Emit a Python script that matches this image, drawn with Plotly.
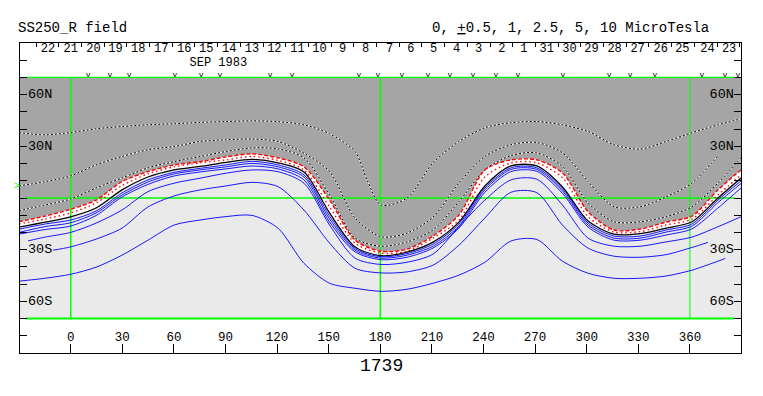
import plotly.graph_objects as go

# Contour sample longitudes (degrees)
LON = [-30.1, -14.9, -0.1, 14.7, 29.8, 44.9, 60.1, 75.2, 90.3, 105.4, 120.5, 135.6, 150.5, 165.3, 180.4,
       195.5, 210.6, 225.7, 240.8, 255.9, 271.0, 285.9, 300.8, 315.9, 331.0, 346.1, 361.2, 376.3, 389.7]

# Contour latitudes (degrees)
BLACK = [-16.9, -14.0, -10.9, -5.8, 4.7, 12.2, 16.3, 18.3, 20.7, 22.4, 20.4, 15.1, -8.7, -28.4, -33.5,
         -31.4, -25.6, -14.0, 7.0, 18.6, 18.6, 6.4, -13.4, -21.0, -20.7, -17.5, -13.8, 0.0, 11.6]
RED_DASH = [-13.8, -10.5, -6.6, -1.2, 9.5, 15.3, 19.2, 21.1, 23.9, 25.6, 23.3, 18.1, -1.2, -24.5, -30.9,
            -29.7, -22.1, -9.9, 16.3, 22.1, 22.1, 14.6, -8.0, -18.6, -18.1, -14.0, -10.5, 4.7, 16.3]
RED_DOT = [-15.1, -12.2, -8.7, -2.9, 7.2, 14.0, 18.1, 20.4, 22.1, 24.1, 21.8, 16.3, -5.2, -26.2, -32.0,
           -30.9, -23.3, -12.8, 12.2, 20.4, 20.4, 11.8, -10.9, -19.8, -19.5, -15.7, -12.2, 1.7, 13.4]
BLUE1 = [-18.1, -15.1, -12.8, -7.6, 2.9, 10.5, 14.9, 17.2, 19.2, 21.3, 19.2, 13.4, -10.5, -29.4, -34.1,
         -32.3, -26.8, -15.1, 5.8, 17.5, 17.5, 5.2, -14.6, -22.1, -22.1, -18.6, -15.1, -1.2, 9.9]
BLUE2 = [-20.0, -16.6, -14.4, -8.7, 1.7, 9.3, 14.0, 16.3, 18.1, 20.1, 18.1, 12.2, -12.2, -30.3, -34.9,
         -33.2, -28.0, -16.3, 4.7, 16.6, 16.6, 4.1, -15.7, -23.3, -23.3, -19.8, -16.3, -2.7, 8.4]
BLUE3 = [-21.0, -18.3, -16.3, -10.2, 0.6, 7.9, 12.8, 15.1, 16.9, 18.6, 16.9, 10.5, -14.0, -31.3, -35.8,
         -34.4, -29.1, -17.5, 3.3, 15.3, 15.5, 2.7, -16.9, -24.5, -24.5, -21.5, -17.9, -5.8, 5.8]
BLUE4_LON = [-24.8] + LON[1:]
BLUE4 = [-24.9, -22.7, -20.0, -14.6, -7.0, 3.7, 8.6, 11.5, 14.4, 16.3, 15.3, 8.6, -15.7, -34.9, -38.6,
         -37.3, -32.6, -16.7, -1.2, 10.5, 10.9, -4.1, -23.3, -28.0, -28.0, -25.5, -22.7, -16.7, -10.9]
BLUE5_LON = [-10.3] + LON[2:26] + [361.2, 370.5]
BLUE5 = [-30.3, -28.4, -23.9, -17.5, -5.2, 1.2, 4.7, 7.0, 9.1, 6.6, -7.0, -26.2, -40.8, -43.5,
         -42.9, -39.0, -27.4, -11.6, 3.3, 3.1, -15.7, -29.1, -33.8, -34.4, -32.9, -28.7, -25.8]
BLUE6_LON = LON[:28] + [380.5]
BLUE6 = [-48.3, -46.6, -44.3, -40.2, -33.2, -24.5, -15.7, -12.8, -10.8, -10.1, -17.5, -37.9, -49.5, -52.4, -54.2,
         -53.0, -49.5, -44.8, -37.3, -25.0, -24.1, -36.7, -43.7, -46.6, -46.6, -45.3, -41.9, -36.7, -35.1]
DOT1 = [-7.4, -4.1, -0.6, 5.8, 11.6, 17.5, 21.1, 24.1, 27.0, 29.1, 28.5, 23.3, 1.7, -23.3, -28.0,
        -25.5, -18.6, -2.2, 16.3, 24.6, 26.2, 18.2, -2.9, -13.8, -13.8, -10.9, -5.1, 8.7, 23.3]
DOT2_LON = LON[:28]
DOT2 = [7.0, 9.5, 12.8, 19.2, 24.1, 28.0, 29.9, 32.8, 33.8, 34.2, 32.8, 26.0, 15.3, -11.6, -22.5,
        -20.4, -11.1, 8.7, 24.1, 30.9, 32.2, 26.2, 9.5, -5.1, -5.1, 0.6, 8.7, 24.5]
DOT3_LON = LON[:14] + [172.3] + LON[14:]
DOT3 = [37.9, 36.7, 38.0, 40.2, 41.5, 42.5, 43.1, 43.9, 44.4, 44.8, 44.3, 42.5, 37.3, 27.0, 10.5, -4.1,
        0.0, 20.4, 32.8, 40.8, 43.7, 44.4, 42.5, 38.6, 30.9, 28.4, 32.8, 37.9, 42.5, 46.0]

# Axis labels and marks
LON_TICKS = [0, 30, 60, 90, 120, 150, 180, 210, 240, 270, 300, 330, 360]
LAT_TICKS = [80, 70, 60, 50, 40, 30, 20, 10, 0, -10, -20, -30, -40, -50, -60, -70, -80]
DAY_TICK_LON = [-20.2, -7.0, 6.2, 19.4, 32.6, 45.8, 59.0, 72.2, 85.4, 98.6, 111.8, 125.0, 138.2, 151.4, 164.6, 177.8,
                191.0, 204.2, 217.4, 230.6, 243.8, 257.0, 270.2, 283.4, 296.6, 309.8, 323.0, 336.2, 349.4, 362.6, 375.8, 389.0]
DAY_LABELS = ["22", "21", "20", "19", "18", "17", "16", "15", "14", "13", "12", "11", "10", "9", "8", "7",
              "6", "5", "4", "3", "2", "1", "31", "30", "29", "28", "27", "26", "25", "24", "23"]
DAY_LABEL_LON = [-13.2, 0.0, 13.2, 26.0, 39.2, 52.6, 66.0, 78.8, 92.2, 105.4, 118.4, 131.8, 144.6, 158.0, 171.4, 185.4,
                 197.8, 211.0, 224.4, 237.2, 250.6, 263.4, 276.8, 290.0, 302.8, 316.2, 329.6, 343.0, 355.6, 370.2, 382.8]
OBS_LON = [10.1, 22.8, 33.9, 60.6, 75.8, 86.8, 115.9, 128.7, 167.6, 178.6, 192.6, 207.7, 220.5, 233.9, 247.2,
           260.0, 286.2, 313.0, 325.2, 339.7, 367.0, 380.3, 387.9]
LAT_LABELS = ["60N", "30N", "30S", "60S"]
LAT_LABEL_VAL = [60, 30, -30, -60]
TOP = [70] * len(LON)
BOTTOM = [-70] * len(LON)

MONO = "Liberation Mono"
GREEN = "#00FF00"
BLUE = "#0000FF"
SMOOTH = 0.8
fig = go.Figure()


def add(x, y, color, width, dash="solid", **kw):
    fig.add_trace(go.Scatter(x=x, y=y, mode="lines", hoverinfo="skip",
                             line=dict(color=color, width=width, dash=dash, shape="spline", smoothing=SMOOTH), **kw))


# Background regions: gray north of the red line, white band, light gray south of the black line
fig.add_trace(go.Scatter(x=LON, y=TOP, mode="lines", line=dict(width=0), hoverinfo="skip"))
fig.add_trace(go.Scatter(x=LON, y=RED_DASH, mode="lines", line=dict(width=0, shape="spline", smoothing=SMOOTH),
                         fill="tonexty", fillcolor="#A5A5A5", hoverinfo="skip"))
fig.add_trace(go.Scatter(x=LON, y=BLACK, mode="lines", line=dict(width=0, shape="spline", smoothing=SMOOTH),
                         fill="tonexty", fillcolor="#FFFFFF", hoverinfo="skip"))
fig.add_trace(go.Scatter(x=LON, y=BOTTOM, mode="lines", line=dict(width=0),
                         fill="tonexty", fillcolor="#EAEAEA", hoverinfo="skip"))

# Green grid
for v, w in [(0, 1.5), (180, 1.5), (360, 1)]:
    fig.add_trace(go.Scatter(x=[v, v], y=[-70, 70], mode="lines", line=dict(color=GREEN, width=w), hoverinfo="skip"))
for v, w in [(70, 1.2), (0, 1.5), (-70, 2)]:
    fig.add_trace(go.Scatter(x=[-26, 386], y=[v, v], mode="lines", line=dict(color=GREEN, width=w), hoverinfo="skip"))

# Contours
for x, y in [(DOT3_LON, DOT3), (DOT2_LON, DOT2), (LON, DOT1)]:
    add(x, y, "#FFFFFF", 1.0)
    add(x, y, "#000000", 1.0, dash="2px,2px")
add(LON, RED_DASH, "#FF0000", 1.4, dash="4px,2px")
add(LON, RED_DOT, "#FF0000", 1.4, dash="1.5px,3px")
add(LON, BLACK, "#000000", 1.3)
for x, y in [(LON, BLUE1), (LON, BLUE2), (LON, BLUE3), (BLUE4_LON, BLUE4), (BLUE5_LON, BLUE5), (BLUE6_LON, BLUE6)]:
    add(x, y, BLUE, 0.9)


def text(x, y, t, size=13, color="#000000"):
    fig.add_trace(go.Scatter(x=x, y=y, mode="text", text=t, textposition="middle center", hoverinfo="skip",
                             textfont=dict(family=MONO, size=size, color=color)))


text(DAY_LABEL_LON, [86.5] * len(DAY_LABELS), DAY_LABELS, size=12)
text([85.8], [78.6], ["SEP 1983"], size=12)
text(OBS_LON, [71.6] * len(OBS_LON), ["v"] * len(OBS_LON), size=8)
text(LON_TICKS, [-81.2] * len(LON_TICKS), [str(v) for v in LON_TICKS], size=12.5)
text([-17.8] * 4, LAT_LABEL_VAL, LAT_LABELS, size=13.5)
text([378.5] * 4, LAT_LABEL_VAL, LAT_LABELS, size=13.5)

axis = dict(showgrid=False, zeroline=False, showline=True, linecolor="#000000", linewidth=1)
fig.update_layout(
    width=763, height=396, margin=dict(l=20, r=22, t=43, b=43, pad=0),
    autosize=False, showlegend=False, paper_bgcolor="#FFFFFF", plot_bgcolor="#FFFFFF",
    xaxis=dict(range=[-29.5, 389.7], tickmode="array", tickvals=LON_TICKS, showticklabels=False,
               ticks="inside", ticklen=9, tickcolor="#000000", tickwidth=1, **axis),
    xaxis2=dict(range=[-29.5, 389.7], overlaying="x", side="top", tickmode="array", tickvals=DAY_TICK_LON,
                showticklabels=False, ticks="inside", ticklen=4, tickcolor="#000000", tickwidth=1, **axis),
    yaxis=dict(range=[-90, 90], tickmode="array", tickvals=LAT_TICKS, showticklabels=False, mirror="ticks",
               ticks="inside", ticklen=7, tickcolor="#000000", tickwidth=1, **axis),
    annotations=[
        dict(xref="paper", yref="paper", x=(16 - 20) / 721, y=1 + 15 / 310, xanchor="left", yanchor="middle",
             text="SS250_R field", showarrow=False, font=dict(family=MONO, size=14, color="#000000")),
        dict(xref="paper", yref="paper", x=(711 - 20) / 721, y=1 + 15 / 310, xanchor="right", yanchor="middle",
             text="0, <u>+</u>0.5, 1, 2.5, 5, 10 MicroTesla", showarrow=False,
             font=dict(family=MONO, size=14, color="#000000")),
        dict(xref="paper", yref="paper", x=(381 - 20) / 721, y=-13 / 310, xanchor="center", yanchor="middle",
             text="1739", showarrow=False, font=dict(family=MONO, size=18, color="#000000")),
        dict(xref="paper", yref="paper", x=(17 - 20) / 721, y=(353 - 186) / 310, xanchor="center", yanchor="middle",
             text=">", showarrow=False, font=dict(family=MONO, size=10, color=GREEN)),
    ],
)
# A trace bound to the top axis so that it is drawn
fig.add_trace(go.Scatter(x=[-29.5], y=[0], xaxis="x2", mode="markers", marker=dict(opacity=0), hoverinfo="skip"))

fig.write_html("out.html", config={"displayModeBar": False},
               post_script="document.body.style.margin='0';document.documentElement.style.overflow='hidden';")
